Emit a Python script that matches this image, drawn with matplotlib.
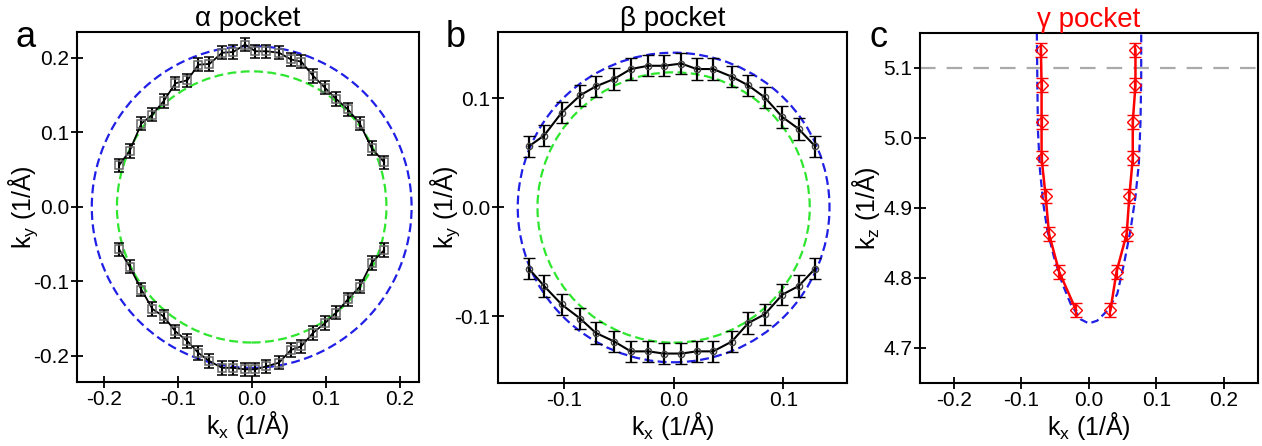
import matplotlib
matplotlib.use('Agg')
import matplotlib.pyplot as plt
from matplotlib.patches import Circle

plt.rcParams['font.family'] = ['Liberation Sans', 'DejaVu Sans']
plt.rcParams['mathtext.default'] = 'regular'
plt.rcParams['axes.unicode_minus'] = False

# ---------- alpha pocket ----------
a_kx = [-0.179, -0.165, -0.149, -0.134, -0.119, -0.103, -0.087, -0.072,
        -0.057, -0.040, -0.025, -0.009, 0.005, 0.020, 0.037, 0.053,
        0.067, 0.083, 0.099, 0.114, 0.130, 0.146, 0.162, 0.179]
a_ky_up = [0.056, 0.075, 0.112, 0.124, 0.142, 0.166, 0.170, 0.191,
           0.192, 0.207, 0.208, 0.218, 0.209, 0.209, 0.207, 0.198,
           0.195, 0.176, 0.160, 0.145, 0.131, 0.112, 0.079, 0.060]
a_ky_dn = [-0.057, -0.080, -0.111, -0.137, -0.147, -0.167, -0.180, -0.196,
           -0.207, -0.216, -0.216, -0.218, -0.218, -0.214, -0.209, -0.192,
           -0.187, -0.169, -0.156, -0.142, -0.124, -0.107, -0.075, -0.058]
a_err = 0.009
a_r_outer = 0.216
a_r_inner = 0.182

# ---------- beta pocket ----------
b_kx = [-0.132, -0.118, -0.102, -0.085, -0.071, -0.054, -0.039, -0.023, -0.009,
        0.007, 0.021, 0.036, 0.053, 0.068, 0.083, 0.099, 0.114, 0.129]
b_ky_up = [0.056, 0.066, 0.087, 0.103, 0.111, 0.118, 0.127, 0.130, 0.130,
           0.132, 0.127, 0.127, 0.120, 0.112, 0.101, 0.083, 0.072, 0.056]
b_ky_dn = [-0.056, -0.072, -0.089, -0.102, -0.115, -0.123, -0.132, -0.132, -0.134,
           -0.134, -0.132, -0.132, -0.123, -0.106, -0.098, -0.080, -0.072, -0.056]
b_err = 0.0098
b_r_outer = 0.142
b_r_inner = 0.124

# ---------- gamma pocket ----------
c_kz = [5.126, 5.075, 5.023, 4.971, 4.917, 4.863, 4.809, 4.754]
c_kx_left = [-0.071, -0.070, -0.070, -0.070, -0.064, -0.059, -0.044, -0.019]
c_kx_right = [0.069, 0.069, 0.065, 0.065, 0.060, 0.056, 0.041, 0.032]
c_err = 0.01
c_fit_kx = [-0.077, -0.0763, -0.0754, -0.0724, -0.0674, -0.0615, -0.0517, -0.0393,
            -0.027, -0.0123, 0.0, 0.0124, 0.027, 0.042, 0.052, 0.0616, 0.069,
            0.074, 0.0764, 0.0775, 0.0775]
c_fit_kz = [5.150, 5.083, 5.011, 4.954, 4.906, 4.868, 4.830, 4.792,
            4.763, 4.741, 4.735, 4.739, 4.753, 4.777, 4.820, 4.868, 4.916,
            4.963, 5.021, 5.083, 5.150]
c_cut = 5.1

blue = '#1f1fe6'
green = '#2ee62e'
tick_fs = 15
label_fs = 18
title_fs = 20
letter_fs = 26

fig = plt.figure(figsize=(12.62, 4.46), dpi=100)
ax1 = fig.add_axes([0.061, 0.1435, 0.271, 0.785])
ax2 = fig.add_axes([0.3946, 0.1413, 0.2766, 0.787])
ax3 = fig.add_axes([0.729, 0.1413, 0.2676, 0.785])


def style(ax, ylab_x):
    for s in ax.spines.values():
        s.set_linewidth(1.5)
    ax.tick_params(direction='inout', length=8, width=1.3, labelsize=tick_fs,
                   top=False, right=False, pad=1.5)
    ax.yaxis.set_label_coords(ylab_x, 0.5)
    ax.xaxis.set_label_coords(0.5, -0.076)


# panel a
ax1.add_patch(Circle((0, 0), a_r_outer, fill=False, ec=blue, lw=1.6, ls=(0, (4, 2))))
ax1.add_patch(Circle((0, 0), a_r_inner, fill=False, ec=green, lw=1.6, ls=(0, (4, 2))))
for ky in (a_ky_up, a_ky_dn):
    ax1.errorbar(a_kx, ky, yerr=a_err, color='black', lw=1.3, elinewidth=1.5,
                 capsize=3.5, capthick=1.5, marker='s', ms=5.5, mfc='none',
                 mec='#666666', mew=1.1, zorder=3)
ax1.set_xlim(-0.236, 0.226)
ax1.set_ylim(-0.235, 0.235)
ax1.set_xticks([-0.2, -0.1, 0.0, 0.1, 0.2])
ax1.set_yticks([-0.2, -0.1, 0.0, 0.1, 0.2])
ax1.set_xlabel('k$_x$ (1/Å)', fontsize=label_fs)
ax1.set_ylabel('k$_y$ (1/Å)', fontsize=label_fs)
ax1.set_title('α pocket', fontsize=title_fs, pad=4)
style(ax1, -0.108)

# panel b
ax2.add_patch(Circle((0, 0), b_r_outer, fill=False, ec=blue, lw=1.6, ls=(0, (4, 2))))
ax2.add_patch(Circle((0, 0), b_r_inner, fill=False, ec=green, lw=1.6, ls=(0, (4, 2))))
for ky in (b_ky_up, b_ky_dn):
    ax2.errorbar(b_kx, ky, yerr=b_err, color='black', lw=1.5, elinewidth=1.6,
                 capsize=4, capthick=1.6, marker='o', ms=4.5, mfc='none',
                 mec='#444444', mew=1.0, zorder=3)
ax2.set_xlim(-0.16, 0.158)
ax2.set_ylim(-0.161, 0.161)
ax2.set_xticks([-0.1, 0.0, 0.1])
ax2.set_yticks([-0.1, 0.0, 0.1])
ax2.set_xlabel('k$_x$ (1/Å)', fontsize=label_fs)
ax2.set_ylabel('k$_y$ (1/Å)', fontsize=label_fs)
ax2.set_title('β pocket', fontsize=title_fs, pad=4)
style(ax2, -0.103)

# panel c
ax3.axhline(c_cut, color='#aaaaaa', lw=1.6, ls=(0, (7, 5)))
ax3.plot(c_fit_kx, c_fit_kz, color=blue, lw=1.6, ls=(0, (3.5, 2)))
for kx in (c_kx_left, c_kx_right):
    ax3.errorbar(kx, c_kz, yerr=c_err, color='red', lw=1.8, elinewidth=1.6,
                 capsize=4, capthick=1.6, marker='D', ms=6, mfc='none',
                 mec='red', mew=1.0, zorder=3)
ax3.set_xlim(-0.25, 0.25)
ax3.set_ylim(4.65, 5.15)
ax3.set_xticks([-0.2, -0.1, 0.0, 0.1, 0.2])
ax3.set_yticks([4.7, 4.8, 4.9, 5.0, 5.1])
ax3.set_xlabel('k$_x$ (1/Å)', fontsize=label_fs)
ax3.set_ylabel('k$_z$ (1/Å)', fontsize=label_fs)
ax3.set_title('γ pocket', fontsize=title_fs, pad=4, color='red')
style(ax3, -0.112)

fig.text(0.020, 0.915, 'a', fontsize=letter_fs, va='center', ha='center')
fig.text(0.361, 0.915, 'b', fontsize=letter_fs, va='center', ha='center')
fig.text(0.696, 0.915, 'c', fontsize=letter_fs, va='center', ha='center')

fig.savefig('out.png', dpi=100)
